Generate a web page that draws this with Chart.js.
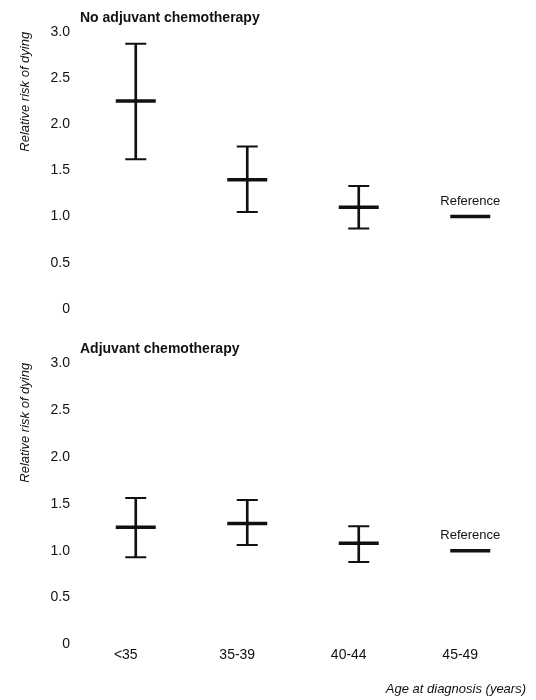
<!DOCTYPE html>
<html><head><meta charset="utf-8">
<script src="https://cdn.jsdelivr.net/npm/chart.js@4.4.1/dist/chart.umd.min.js"></script>
<style>
html,body{margin:0;padding:0;background:#fff;}
#wrap{position:relative;width:536px;height:700px;}
canvas{position:absolute;left:0;display:block;}
#c1{top:0;} #c2{top:330px;}
</style></head><body>
<div id="wrap"><canvas id="c1" width="536" height="330"></canvas><canvas id="c2" width="536" height="370"></canvas></div>
<script>
const categories = ['<35', '35-39', '40-44', '45-49'];
const yTicks = [0, 0.5, 1.0, 1.5, 2.0, 2.5, 3.0];
const yTickLabels = ['0', '0.5', '1.0', '1.5', '2.0', '2.5', '3.0'];
const panelTitles = ['No adjuvant chemotherapy', 'Adjuvant chemotherapy'];
const yAxisTitle = 'Relative risk of dying';
const xAxisTitle = 'Age at diagnosis (years)';
const referenceLabel = 'Reference';
const referenceIndex = 3;

const noChemoEstimate = [2.25, 1.40, 1.10, 1.00];
const noChemoLower    = [1.62, 1.05, 0.87, null];
const noChemoUpper    = [2.87, 1.76, 1.33, null];

const chemoEstimate = [1.25, 1.29, 1.08, 1.00];
const chemoLower    = [0.93, 1.06, 0.88, null];
const chemoUpper    = [1.56, 1.54, 1.26, null];

const FONT = '"Liberation Sans", Arial, Helvetica, sans-serif';
const INK = '#111';
Chart.defaults.font.family = FONT;
Chart.defaults.color = INK;

const referencePlugin = {
  id: 'refLabel',
  afterDatasetsDraw(chart) {
    const {ctx, scales: {x, y}} = chart;
    const ds = chart.data.datasets.find(d => d.label === 'Estimate');
    const v = ds.data[referenceIndex];
    const px = x.getPixelForValue(referenceIndex);
    const py = y.getPixelForValue(v);
    ctx.save();
    ctx.font = '13px ' + FONT;
    ctx.fillStyle = INK;
    ctx.textAlign = 'center';
    ctx.textBaseline = 'middle';
    ctx.fillText(referenceLabel, px, py - 15);
    ctx.restore();
  }
};

function makeChart(id, title, est, lo, hi, showX) {
  const ranges = lo.map((l, i) => (l === null ? null : [l, hi[i]]));
  return new Chart(document.getElementById(id), {
    type: 'bar',
    data: {
      labels: categories,
      datasets: [
        { type: 'bar', label: 'CI', data: ranges, backgroundColor: INK, borderWidth: 0, barThickness: 2 },
        { type: 'line', label: 'Upper', data: hi, showLine: false, pointStyle: 'line',
          pointRadius: 10.5, pointBorderWidth: 2, pointBorderColor: INK, pointBackgroundColor: INK },
        { type: 'line', label: 'Lower', data: lo, showLine: false, pointStyle: 'line',
          pointRadius: 10.5, pointBorderWidth: 2, pointBorderColor: INK, pointBackgroundColor: INK },
        { type: 'line', label: 'Estimate', data: est, showLine: false, pointStyle: 'line',
          pointRadius: 20, pointBorderWidth: 3.5, pointBorderColor: INK, pointBackgroundColor: INK }
      ]
    },
    options: {
      responsive: false, animation: false, devicePixelRatio: 1,
      events: [],
      layout: { autoPadding: false, padding: { left: 0, right: 10, top: 0, bottom: showX ? 0 : 21 } },
      plugins: {
        legend: { display: false },
        tooltip: { enabled: false },
        title: {
          display: true, text: title, align: 'start', fullSize: false, color: INK,
          font: { family: FONT, size: 14, weight: 'bold' },
          padding: { top: showX ? 11 : 10, bottom: 5 }
        }
      },
      scales: {
        x: {
          type: 'category', offset: true, display: showX,
          grid: { display: false, drawTicks: false }, border: { display: false },
          ticks: { color: INK, font: { family: FONT, size: 14 }, padding: 2, labelOffset: -10, maxRotation: 0, autoSkip: false },
          title: { display: true, text: xAxisTitle, align: 'end', color: INK,
                   font: { family: FONT, size: 13, style: 'italic' }, padding: { top: 16, bottom: 3 } }
        },
        y: {
          min: 0, max: 3,
          afterFit(s) { s.width = 80; },
          afterBuildTicks(s) { s.ticks = yTicks.map(v => ({ value: v })); },
          grid: { display: false, drawTicks: false }, border: { display: false },
          ticks: { color: INK, font: { family: FONT, size: 14 }, padding: 10,
                   callback: (v) => yTickLabels[yTicks.indexOf(v)] },
          title: { display: true, text: yAxisTitle, align: 'end', color: INK,
                   font: { family: FONT, size: 13, style: 'italic' }, padding: { top: 18, bottom: 0 } }
        }
      }
    },
    plugins: [referencePlugin]
  });
}

makeChart('c1', panelTitles[0], noChemoEstimate, noChemoLower, noChemoUpper, false);
makeChart('c2', panelTitles[1], chemoEstimate, chemoLower, chemoUpper, true);
</script>
</body></html>
